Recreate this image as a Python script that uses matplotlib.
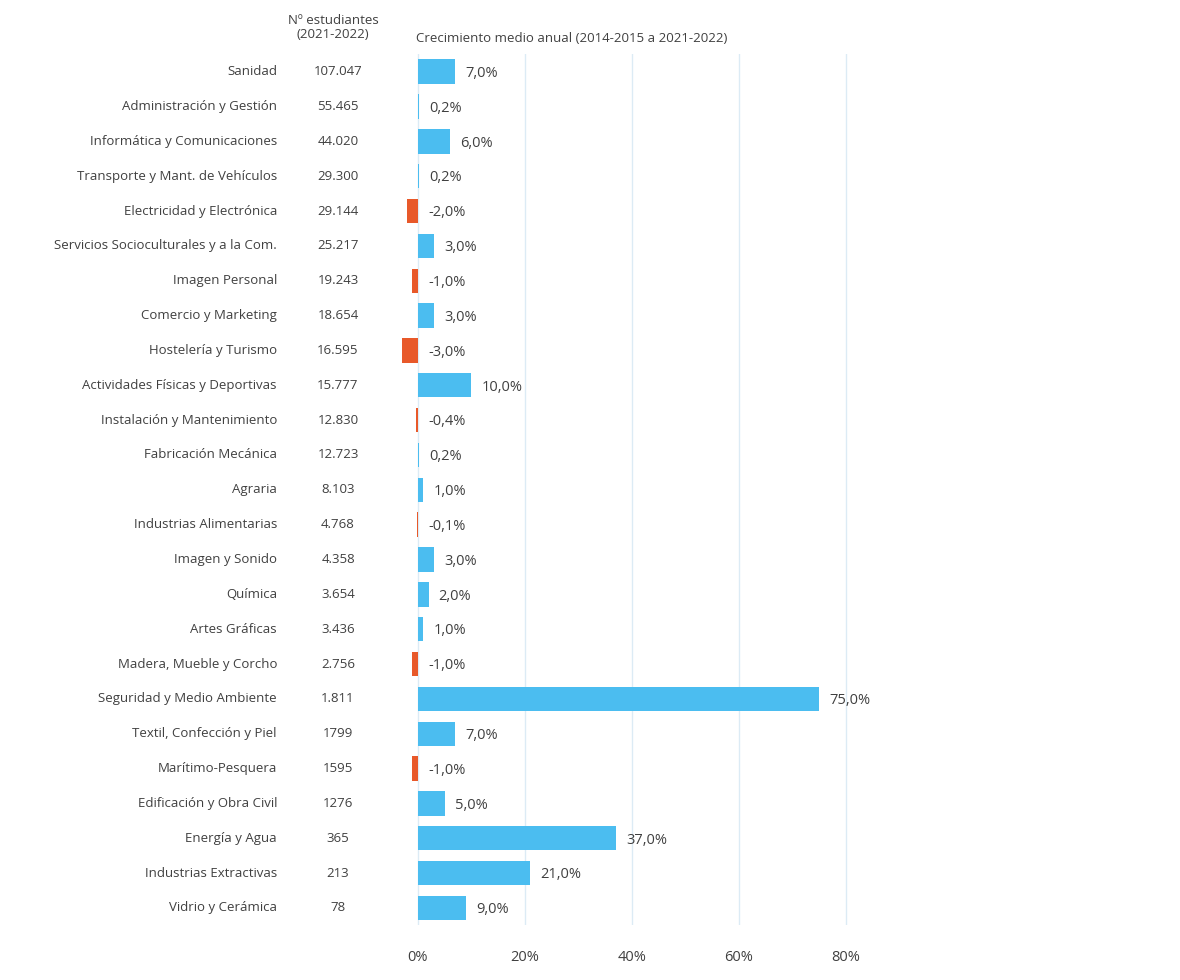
import matplotlib.pyplot as plt
from matplotlib.ticker import FuncFormatter

plt.rcParams['font.family'] = ['Open Sans', 'DejaVu Sans']

categories = ['Sanidad', 'Administración y Gestión', 'Informática y Comunicaciones',
              'Transporte y Mant. de Vehículos', 'Electricidad y Electrónica',
              'Servicios Socioculturales y a la Com.', 'Imagen Personal',
              'Comercio y Marketing', 'Hostelería y Turismo',
              'Actividades Físicas y Deportivas', 'Instalación y Mantenimiento',
              'Fabricación Mecánica', 'Agraria', 'Industrias Alimentarias',
              'Imagen y Sonido', 'Química', 'Artes Gráficas',
              'Madera, Mueble y Corcho', 'Seguridad y Medio Ambiente',
              'Textil, Confección y Piel', 'Marítimo-Pesquera',
              'Edificación y Obra Civil', 'Energía y Agua',
              'Industrias Extractivas', 'Vidrio y Cerámica']
students = ['107.047', '55.465', '44.020', '29.300', '29.144', '25.217', '19.243',
            '18.654', '16.595', '15.777', '12.830', '12.723', '8.103', '4.768',
            '4.358', '3.654', '3.436', '2.756', '1.811', '1799', '1595', '1276',
            '365', '213', '78']
growth = [7.0, 0.2, 6.0, 0.2, -2.0, 3.0, -1.0, 3.0, -3.0, 10.0, -0.4, 0.2, 1.0,
          -0.1, 3.0, 2.0, 1.0, -1.0, 75.0, 7.0, -1.0, 5.0, 37.0, 21.0, 9.0]

BLUE = '#4BBDF0'
ORANGE = '#E8592A'
TXT = '#404040'

fig = plt.figure(figsize=(11.8, 9.8), dpi=100)
ax = fig.add_axes([0.326, 0.0557, 0.436, 0.889])

y = list(range(len(categories)))
colors = [BLUE if g >= 0 else ORANGE for g in growth]
ax.barh(y, growth, height=0.7, color=colors, zorder=2)

for yi, g in zip(y, growth):
    xpos = max(g, 0) + 1.9
    ax.text(xpos, yi + 0.05, f'{g:.1f}%'.replace('.', ','), va='center', ha='left',
            fontsize=10.5, color=TXT)

ax.set_ylim(len(categories) - 0.5, -0.5)
ax.set_xlim(-6.2, 90)
ax.set_xticks([0, 20, 40, 60, 80])
ax.xaxis.set_major_formatter(FuncFormatter(lambda v, p: f'{v:.0f}%'))
ax.tick_params(axis='x', length=0, labelsize=10.5, colors=TXT, pad=18)
ax.set_yticks([])
ax.grid(axis='x', color='#DCEBF5', linewidth=1, zorder=0)
for s in ax.spines.values():
    s.set_visible(False)

# category names and student counts
for yi, name, n in zip(y, categories, students):
    yf = ax.transData.transform((0, yi))[1] / fig.bbox.height
    fig.text(277 / 1180, yf, name, ha='right', va='center', fontsize=9.5, color=TXT)
    fig.text(338 / 1180, yf, n, ha='center', va='center', fontsize=9.5, color=TXT)

fig.text(333 / 1180, 1 - 27 / 980, 'Nº estudiantes\n(2021-2022)', ha='center',
         va='center', fontsize=9.5, color=TXT, linespacing=1.1)
fig.text(416 / 1180, 1 - 38 / 980, 'Crecimiento medio anual (2014-2015 a 2021-2022)',
         ha='left', va='center', fontsize=9.5, color=TXT)

fig.savefig('out.png', dpi=100)
